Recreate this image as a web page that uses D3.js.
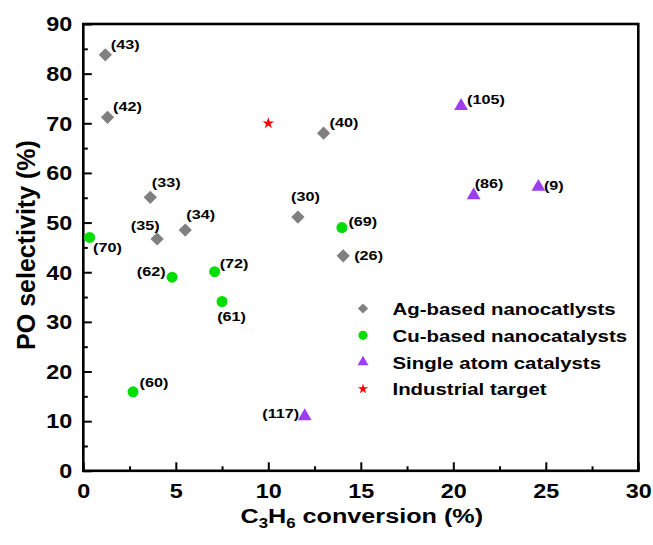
<!DOCTYPE html>
<html>
<head>
<meta charset="utf-8">
<script src="https://cdn.jsdelivr.net/npm/d3@7"></script>
<style>
  body { margin: 0; background: #fff; }
  text { font-family: "Liberation Sans", Arial, sans-serif; font-weight: bold; fill: #000; }
</style>
</head>
<body>
<script>
let width = 653,
    height = 545;

// Ag-based nanocatalysts
const agX = [1.19, 1.31, 3.62, 3.99, 5.51, 11.6, 12.99, 14.05];
const agY = [83.8, 71.2, 55.1, 46.7, 48.5, 51.1, 68.0, 43.3];
const agRef = ["(43)", "(42)", "(33)", "(35)", "(34)", "(30)", "(40)", "(26)"];

// Cu-based nanocatalysts
const cuX = [0.34, 4.8, 7.1, 7.5, 2.69, 13.98];
const cuY = [47.0, 39.0, 40.1, 34.1, 15.9, 49.0];
const cuRef = ["(70)", "(62)", "(72)", "(61)", "(60)", "(69)"];

// Single atom catalysts
const sacX = [20.42, 21.1, 24.6, 11.97];
const sacY = [73.5, 55.5, 57.2, 11.0];
const sacRef = ["(105)", "(86)", "(9)", "(117)"];

// Industrial target
const targetX = [10];
const targetY = [70];

const xTicks = [0, 5, 10, 15, 20, 25, 30];
const yTicks = [0, 10, 20, 30, 40, 50, 60, 70, 80, 90];
const legendNames = ["Ag-based nanocatlysts", "Cu-based nanocatalysts", "Single atom catalysts", "Industrial target"];

// where each reference label sits next to its marker: [dx, dy, anchor]
const labelPos = {
    "(43)": [5.5, -6, "start"], "(42)": [5.5, -6.5, "start"], "(33)": [1.5, -10, "start"],
    "(35)": [2.5, -9, "end"], "(34)": [1, -11, "start"], "(30)": [7.5, -16.5, "middle"],
    "(40)": [6, -6, "start"], "(26)": [11, 4, "start"],
    "(70)": [3.5, 15, "start"], "(62)": [-6.5, -1.5, "end"], "(72)": [5, -4, "start"],
    "(61)": [9.5, 19, "middle"], "(60)": [6.5, -4.5, "start"], "(69)": [6.5, -2, "start"],
    "(105)": [6, -2, "start"], "(86)": [1, -7.5, "start"], "(9)": [5.5, 3, "start"],
    "(117)": [-5.5, 1.5, "end"]
};

const sx = 1.2; // horizontal stretch of the original figure text

const x = d3.scaleLinear().domain([0, 30]).range([83.3, 638.3]);
const y = d3.scaleLinear().domain([0, 90]).range([470.8, 24]);

const svg = d3.select("body").append("svg")
    .attr("width", width)
    .attr("height", height);

// minor ticks
svg.append("g")
    .attr("transform", `translate(0,${y(0)})`)
    .call(d3.axisBottom(x).tickValues([2.5, 7.5, 12.5, 17.5, 22.5, 27.5]).tickSize(-4.5).tickFormat(""))
    .call(g => g.select(".domain").remove());
svg.append("g")
    .attr("transform", `translate(${x(0)},0)`)
    .call(d3.axisLeft(y).tickValues(d3.range(5, 90, 10)).tickSize(-4.5).tickFormat(""))
    .call(g => g.select(".domain").remove());

// major ticks
const xAxis = svg.append("g")
    .attr("transform", `translate(0,${y(0)})`)
    .call(d3.axisBottom(x).tickValues(xTicks).tickSize(-8.5).tickPadding(13))
    .call(g => g.select(".domain").remove());
xAxis.selectAll("text")
    .style("font-size", "19.5px")
    .attr("transform", `scale(${sx},1)`);

const yAxis = svg.append("g")
    .attr("transform", `translate(${x(0)},0)`)
    .call(d3.axisLeft(y).tickValues(yTicks).tickSize(-8.5).tickPadding(11))
    .call(g => g.select(".domain").remove());
yAxis.selectAll("text")
    .style("font-size", "19.5px")
    .attr("x", 0)
    .attr("dy", "0.35em")
    .attr("transform", `translate(-11,0) scale(${sx},1)`);

svg.selectAll(".tick line").attr("stroke", "#000").attr("stroke-width", 2);

// frame
svg.append("rect")
    .attr("x", x(0)).attr("y", y(90))
    .attr("width", x(30) - x(0)).attr("height", y(0) - y(90))
    .attr("fill", "none").attr("stroke", "#000").attr("stroke-width", 2.6);

// axis titles
const xt = svg.append("text")
    .attr("transform", `translate(${x(15) + 1},523) scale(${sx},1)`)
    .attr("text-anchor", "middle")
    .style("font-size", "21px");
xt.append("tspan").text("C");
xt.append("tspan").text("3").style("font-size", "14px").attr("dy", 5);
xt.append("tspan").text("H").attr("dy", -5);
xt.append("tspan").text("6").style("font-size", "14px").attr("dy", 5);
xt.append("tspan").text(" conversion (%)").attr("dy", -5);

svg.append("text")
    .attr("transform", `translate(35,245) rotate(-90)`)
    .attr("text-anchor", "middle")
    .style("font-size", "25px")
    .text("PO selectivity (%)");

// series
const series = [
    { xs: agX, ys: agY, refs: agRef, color: "#808080", sym: d3.symbolSquare, size: 88, rot: 45, lsize: 52 },
    { xs: cuX, ys: cuY, refs: cuRef, color: "#00dd00", sym: d3.symbolCircle, size: 95, rot: 0, lsize: 66 },
    { xs: sacX, ys: sacY, refs: sacRef, color: "#9b3ef2", sym: d3.symbolTriangle, size: 82, rot: 0, lsize: 52 },
    { xs: targetX, ys: targetY, refs: [], color: "#ff0000", sym: d3.symbolStar, size: 42, rot: 0, lsize: 32 }
];

series.forEach(function (s) {
    const pts = s.xs.map((v, i) => ({ x: v, y: s.ys[i], ref: s.refs[i] }));
    svg.append("g").selectAll("path")
        .data(pts)
        .enter().append("path")
        .attr("d", d3.symbol().type(s.sym).size(s.size))
        .attr("transform", d => `translate(${x(d.x)},${y(d.y)}) rotate(${s.rot})`)
        .attr("fill", s.color);
    svg.append("g").selectAll("text")
        .data(pts.filter(d => d.ref))
        .enter().append("text")
        .attr("transform", function (d) {
            const p = labelPos[d.ref];
            return `translate(${x(d.x) + p[0]},${y(d.y) + p[1]}) scale(${sx},1)`;
        })
        .attr("text-anchor", d => labelPos[d.ref][2])
        .style("font-size", "13.5px")
        .text(d => d.ref);
});

// legend
const legend = svg.append("g").attr("transform", "translate(363,308.5)");
legendNames.forEach(function (name, i) {
    const s = series[i];
    legend.append("path")
        .attr("d", d3.symbol().type(s.sym).size(s.lsize))
        .attr("transform", `translate(0,${i * 26.8}) rotate(${s.rot})`)
        .attr("fill", s.color);
    legend.append("text")
        .attr("transform", `translate(29.5,${i * 26.8 + 6.5}) scale(${sx},1)`)
        .style("font-size", "17px")
        .text(name);
});
</script>
</body>
</html>
